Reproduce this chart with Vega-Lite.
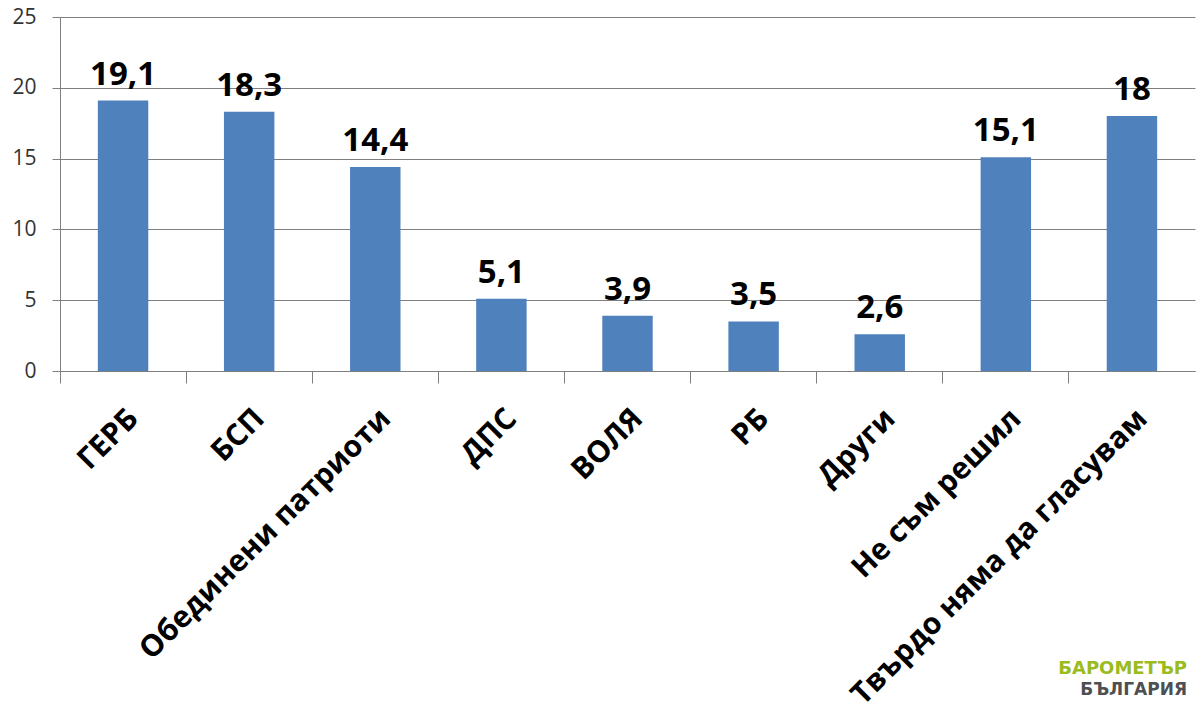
{
  "$schema": "https://vega.github.io/schema/vega-lite/v6.json",
  "autosize": {"type": "none"},
  "width": 1135,
  "height": 354,
  "padding": {"left": 60, "top": 17, "right": 5, "bottom": 352},
  "background": "white",
  "title": {
    "text": "БАРОМЕТЪР",
    "subtitle": "БЪЛГАРИЯ",
    "orient": "top",
    "anchor": "end",
    "frame": "group",
    "dx": -8,
    "dy": 696,
    "font": "DejaVu Sans",
    "fontSize": 18,
    "fontWeight": "bold",
    "color": "#9BBB1E",
    "subtitleFont": "DejaVu Sans",
    "subtitleFontSize": 17,
    "subtitleFontWeight": "bold",
    "subtitleColor": "#4D4F53",
    "subtitlePadding": 4
  },
  "config": {
    "locale": {
      "number": {
        "decimal": ",",
        "thousands": " ",
        "grouping": [3],
        "currency": ["", ""]
      }
    },
    "view": {"stroke": null},
    "font": "Open Sans"
  },
  "data": {
    "values": [
      {"party": "ГЕРБ", "value": 19.1},
      {"party": "БСП", "value": 18.3},
      {"party": "Обединени патриоти", "value": 14.4},
      {"party": "ДПС", "value": 5.1},
      {"party": "ВОЛЯ", "value": 3.9},
      {"party": "РБ", "value": 3.5},
      {"party": "Други", "value": 2.6},
      {"party": "Не съм решил", "value": 15.1},
      {"party": "Твърдо няма да гласувам", "value": 18}
    ]
  },
  "layer": [
    {
      "mark": {"type": "bar", "color": "#4F81BD", "width": {"band": 0.4}},
      "encoding": {
        "x": {
          "field": "party",
          "type": "nominal",
          "sort": null,
          "scale": {"paddingInner": 0, "paddingOuter": 0},
          "axis": {
            "title": null,
            "orient": "bottom",
            "labelAngle": -45,
            "labelFont": "Open Sans",
            "labelFontSize": 30,
            "labelFontWeight": "bold",
            "labelColor": "black",
            "labelPadding": 32,
            "labelLimit": 500,
            "ticks": false,
            "domain": false,
            "grid": false
          }
        },
        "y": {
          "field": "value",
          "type": "quantitative",
          "scale": {"domain": [0, 25], "nice": false},
          "axis": {
            "title": null,
            "values": [0, 5, 10, 15, 20, 25],
            "labelFont": "Open Sans",
            "labelFontSize": 21,
            "labelColor": "#333333",
            "labelPadding": 16,
            "tickSize": 8,
            "tickColor": "#7f7f7f",
            "domainColor": "#7f7f7f",
            "gridColor": "#7f7f7f",
            "grid": true
          }
        }
      }
    },
    {
      "mark": {"type": "text", "baseline": "bottom", "dy": -9, "font": "Open Sans", "fontSize": 33, "fontWeight": "bold", "color": "black"},
      "encoding": {
        "x": {
          "field": "party",
          "type": "nominal",
          "sort": null,
          "axis": {
            "title": null,
            "orient": "bottom",
            "bandPosition": 0,
            "labels": false,
            "tickSize": 12,
            "tickColor": "#7f7f7f",
            "domainColor": "#7f7f7f",
            "grid": false
          }
        },
        "y": {"field": "value", "type": "quantitative"},
        "text": {"field": "value", "type": "quantitative", "format": "~g"}
      }
    }
  ],
  "resolve": {"axis": {"x": "independent"}}
}
